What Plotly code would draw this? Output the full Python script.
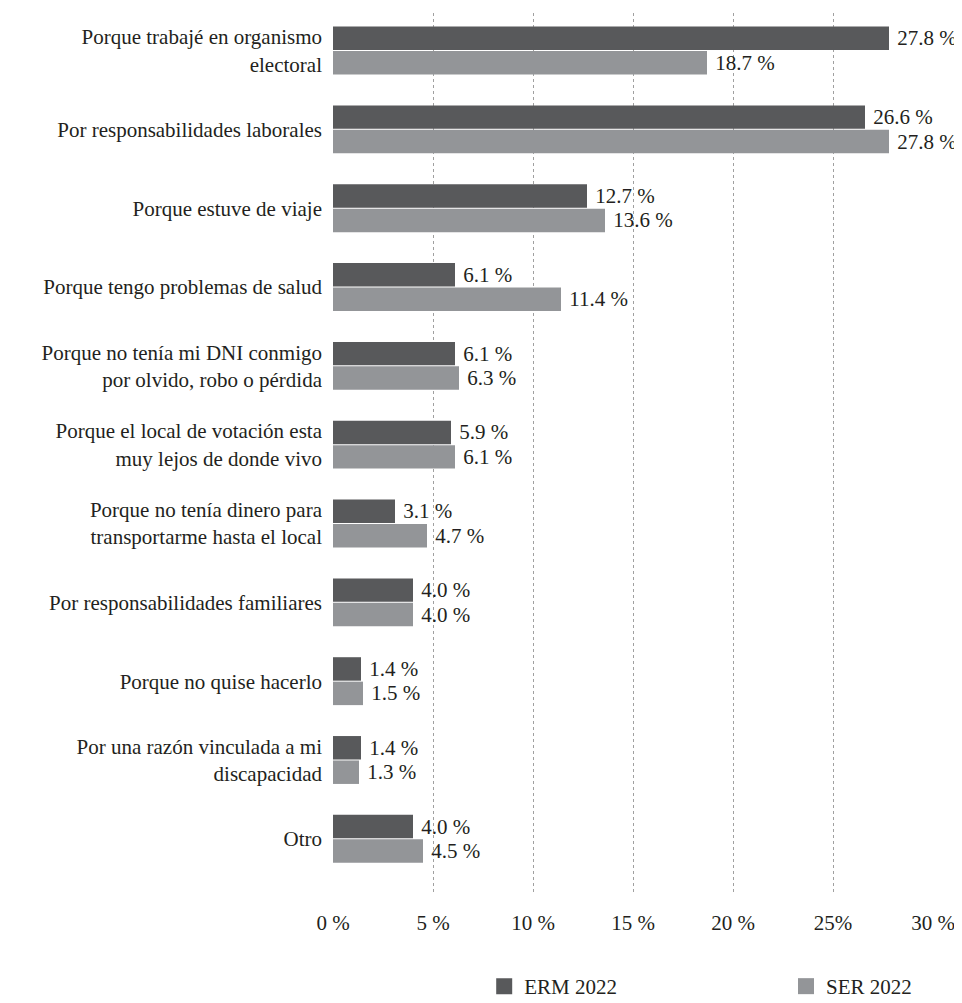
import plotly.graph_objects as go

categories = [
    "Porque trabajé en organismo<br>electoral",
    "Por responsabilidades laborales",
    "Porque estuve de viaje",
    "Porque tengo problemas de salud",
    "Porque no tenía mi DNI conmigo<br>por olvido, robo o pérdida",
    "Porque el local de votación esta<br>muy lejos de donde vivo",
    "Porque no tenía dinero para<br>transportarme hasta el local",
    "Por responsabilidades familiares",
    "Porque no quise hacerlo",
    "Por una razón vinculada a mi<br>discapacidad",
    "Otro",
]
erm_2022 = [27.8, 26.6, 12.7, 6.1, 6.1, 5.9, 3.1, 4.0, 1.4, 1.4, 4.0]
ser_2022 = [18.7, 27.8, 13.6, 11.4, 6.3, 6.1, 4.7, 4.0, 1.5, 1.3, 4.5]
tick_vals = [0, 5, 10, 15, 20, 25, 30]
tick_text = ["0 %", "5 %", "10 %", "15 %", "20 %", "25%", "30 %"]

FONT = "Liberation Serif"
FS = 21
TXT = "#231f20"
C_ERM = "#58595b"
C_SER = "#939598"

fig = go.Figure()
series = [("ERM 2022", erm_2022, C_ERM, "legend"), ("SER 2022", ser_2022, C_SER, "legend2")]
for name, vals, col, leg in series:
    fig.add_trace(go.Bar(
        name=name, y=categories, x=vals, orientation="h",
        marker=dict(color=col, line=dict(width=0)),
        text=[" %.1f %%" % v for v in vals], textposition="outside",
        textfont=dict(family=FONT, size=FS, color=TXT),
        constraintext="none", cliponaxis=False, showlegend=False,
    ))
    fig.add_trace(go.Scatter(
        name=name, x=[None], y=[None], mode="markers",
        marker=dict(symbol="square", size=16, color=col),
        showlegend=True, legend=leg,
    ))

legend_common = dict(orientation="h", yanchor="middle", y=-0.105, xanchor="left",
                     font=dict(family=FONT, size=FS, color=TXT),
                     bgcolor="rgba(0,0,0,0)", borderwidth=0)

# page body adds an 8px offset, so the figure is 8px smaller than the window
fig.update_layout(
    template="none",
    width=954, height=995,
    margin=dict(l=325, r=29, t=5, b=109, autoexpand=False),
    paper_bgcolor="white", plot_bgcolor="white",
    font=dict(family=FONT, size=FS, color=TXT),
    barmode="group", bargap=0.38, bargroupgap=0.04,
    legend=dict(x=0.252, **legend_common),
    legend2=dict(x=0.755, **legend_common),
)
fig.update_xaxes(
    range=[0, 30], tickvals=tick_vals, ticktext=tick_text,
    showgrid=True, gridcolor="#a0a0a0", gridwidth=1, griddash="dot",
    zeroline=False, showline=False, ticks="", ticklabelstandoff=14,
    automargin=False,
    tickfont=dict(family=FONT, size=FS, color=TXT),
)
fig.update_yaxes(
    categoryorder="array", categoryarray=categories,
    range=[10.70, -0.476], showgrid=False, zeroline=False, showline=False,
    ticks="", ticklabelstandoff=10, automargin=False,
    tickfont=dict(family=FONT, size=FS, color=TXT),
)
fig.write_html("out.html")
